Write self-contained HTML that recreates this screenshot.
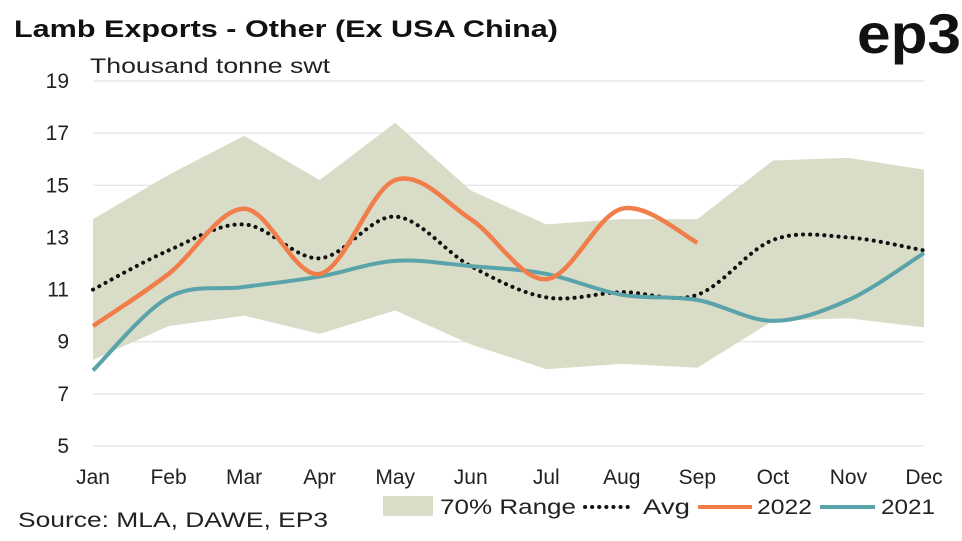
<!DOCTYPE html>
<html><head><meta charset="utf-8"><style>
body{margin:0;background:#fff;font-family:"Liberation Sans",sans-serif}
svg{display:block}
</style></head><body>
<svg width="962" height="541">
<text x="14" y="37" font-size="24" font-weight="bold" fill="#111" textLength="544" lengthAdjust="spacingAndGlyphs">Lamb Exports - Other (Ex USA China)</text>
<text x="857" y="53" font-size="56" font-weight="bold" fill="#111" textLength="104" lengthAdjust="spacingAndGlyphs">ep3</text>
<text x="90" y="73" font-size="21" fill="#222" textLength="240" lengthAdjust="spacingAndGlyphs">Thousand tonne swt</text>
<g id="grid"></g><g id="area"></g><g id="lines"></g><g id="axes"></g>
<text x="18" y="527" font-size="21" fill="#222" textLength="310" lengthAdjust="spacingAndGlyphs">Source: MLA, DAWE, EP3</text>
<g font-size="21" fill="#222">
<rect x="383" y="496" width="50" height="20" fill="#d9dcc6"/>
<text x="440" y="514" textLength="136" lengthAdjust="spacingAndGlyphs">70% Range</text>
<line x1="585" y1="507" x2="634" y2="507" stroke="#111" stroke-width="4" stroke-dasharray="0.1 7" stroke-linecap="round"/>
<text x="643" y="514" textLength="47" lengthAdjust="spacingAndGlyphs">Avg</text>
<line x1="698" y1="507" x2="752" y2="507" stroke="#f07d4a" stroke-width="4"/>
<text x="757" y="514" textLength="55" lengthAdjust="spacingAndGlyphs">2022</text>
<line x1="820" y1="507" x2="875" y2="507" stroke="#5aa3aa" stroke-width="4"/>
<text x="881" y="514" textLength="54" lengthAdjust="spacingAndGlyphs">2021</text>
</g>
</svg>
<script>
const months=["Jan","Feb","Mar","Apr","May","Jun","Jul","Aug","Sep","Oct","Nov","Dec"];
const yTicks=[5,7,9,11,13,15,17,19];
const rangeHigh=[13.7,15.4,16.9,15.2,17.4,14.8,13.5,13.7,13.7,15.95,16.05,15.6];
const rangeLow=[8.3,9.6,10.0,9.3,10.2,8.9,7.95,8.15,8.0,9.8,9.9,9.55];
const avg=[11.0,12.5,13.5,12.2,13.8,11.9,10.7,10.9,10.8,12.9,13.0,12.5];
const s2022=[9.6,11.6,14.1,11.6,15.2,13.7,11.4,14.1,12.8];
const s2021=[7.9,10.7,11.1,11.5,12.1,11.9,11.6,10.8,10.6,9.8,10.6,12.4];
const NS="http://www.w3.org/2000/svg";
const x=i=>93+i*(924-93)/11;
const y=v=>446-(v-5)*(446-81)/14;
function mk(t,a,p){const e=document.createElementNS(NS,t);for(const k in a)e.setAttribute(k,a[k]);document.getElementById(p).appendChild(e);return e;}
yTicks.forEach(v=>{
 const l=mk('line',{x1:93,x2:924,y1:y(v),y2:y(v),stroke:'#dedede','stroke-width':1},'grid');
 
 
 const t=mk('text',{x:69,y:y(v)+7,'font-size':21,'text-anchor':'end',fill:'#222'},'axes');t.textContent=v;
 
 
});
months.forEach((m,i)=>{
 const t=mk('text',{x:x(i),y:484,'font-size':21,'text-anchor':'middle',fill:'#222'},'axes');t.textContent=m;
 
 
});
let pts=rangeHigh.map((v,i)=>x(i)+','+y(v)).concat(rangeLow.map((v,i)=>x(i)+','+y(v)).reverse());
const poly=mk('polygon',{points:pts.join(' '),fill:'#d9dcc6'},'area');


function smooth(arr){const p=arr.map((v,i)=>[x(i),y(v)]);let d='M'+p[0];
 for(let i=0;i<p.length-1;i++){const p0=p[i-1]||p[i],p1=p[i],p2=p[i+1],p3=p[i+2]||p2;
  const c1=[p1[0]+(p2[0]-p0[0])/6,p1[1]+(p2[1]-p0[1])/6],c2=[p2[0]-(p3[0]-p1[0])/6,p2[1]-(p3[1]-p1[1])/6];
  d+=' C'+c1+' '+c2+' '+p2;}return d;}
const a=mk('path',{d:smooth(avg),fill:'none',stroke:'#111','stroke-width':4,'stroke-dasharray':'0.1 7','stroke-linecap':'round'},'lines');


const b=mk('path',{d:smooth(s2021),fill:'none',stroke:'#5aa3aa','stroke-width':4},'lines');


const c=mk('path',{d:smooth(s2022),fill:'none',stroke:'#f07d4a','stroke-width':4.5},'lines');


</script>
</body></html>
